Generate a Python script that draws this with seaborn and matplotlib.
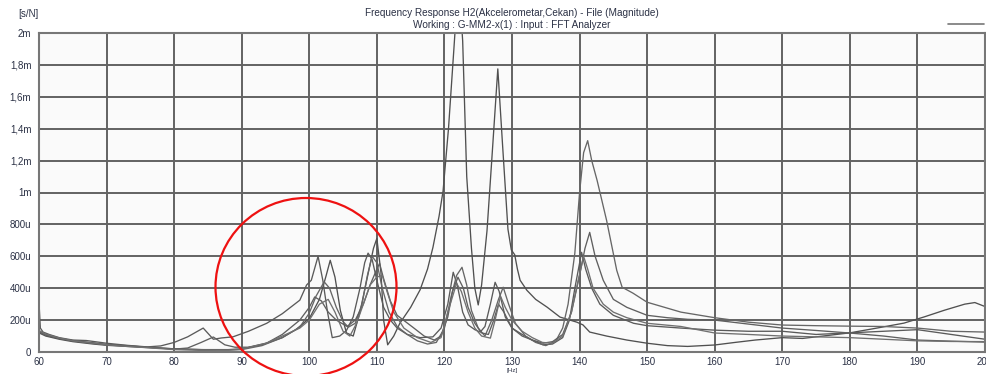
import numpy as np
import pandas as pd
import matplotlib
matplotlib.use("Agg")
import matplotlib.pyplot as plt
import seaborn as sns
from matplotlib.patches import Ellipse
from matplotlib.lines import Line2D

# ---- data (magnitude in micro s/N) ----
f1 = [60, 61, 63, 65, 68, 70, 73, 76, 80, 84, 88, 90, 93, 96, 98, 100, 101.5, 102.5, 103.1, 103.8, 104.6,
      105.5, 106.5, 107.5, 108.5, 109.5, 110, 110.6, 111.0, 111.6, 112.5, 113.4, 115, 116.4, 117.5, 118.3,
      119.2, 119.8, 120.6, 121.4, 122.1, 122.7, 123.3, 124, 124.5, 125, 125.5, 126.3, 127, 127.9, 128.6,
      129.4, 129.9, 130.4, 130.8, 131.2, 132.2, 133.5, 135.2, 137.1, 139.6, 140.5, 141.5, 144, 147, 150,
      153, 156, 160, 163, 166, 170, 173, 176, 180, 184, 188, 191, 194, 197, 198.5, 200]
v1 = [120, 100, 80, 65, 50, 42, 35, 28, 20, 15, 15, 20, 45, 90, 140, 210, 330, 480, 575, 470, 260,
      120, 100, 250, 450, 650, 712, 500, 200, 45, 100, 180, 280, 390, 520, 656,
      850, 1010, 1400, 1900, 2350, 1950, 1100, 650, 400, 295, 420, 760, 1200, 1775, 1300,
      770, 640, 610, 520, 450, 387, 330, 281, 219, 187, 170, 125, 100, 75, 55,
      40, 35, 44, 60, 75, 90, 85, 100, 120, 150, 181, 220, 262, 300, 310, 285]

f2 = [60, 60.2, 60.6, 61.5, 63, 65, 67, 70, 73, 76, 78, 80, 82, 84.3, 85.8, 87, 88.7, 91, 93.7, 96, 98.6,
      99.6, 100.3, 101.3, 102, 102.7, 103.4, 104.5, 105.5, 106.5, 107.5, 108.2, 108.7, 109.3, 110, 111,
      112, 113, 114.5, 116.4, 118.3, 119.5, 120.5, 121.3, 121.9, 122.7, 123.5, 124.5, 125.3, 126, 126.8,
      127.5, 128.1, 129, 130, 131.5, 133, 134.6, 136, 137.5, 138.5, 139.3, 140.3, 140.9, 141.8, 143, 145,
      148, 150, 155, 160, 165, 170, 175, 180, 185, 190, 195, 200]
v2 = [310, 150, 125, 110, 90, 75, 72, 55, 42, 32, 38, 60, 95, 150, 80, 88, 95, 130, 180, 240, 325,
      420, 450, 600, 450, 250, 90, 100, 135, 220, 400, 560, 620, 580, 450, 280,
      200, 150, 110, 90, 95, 150, 300, 500, 420, 250, 170, 140, 125, 160, 300,
      437, 380, 220, 150, 110, 75, 45, 50, 90, 200, 400, 625, 520, 400, 300, 230,
      180, 165, 150, 137, 130, 130, 110, 120, 130, 140, 110, 80]

f3 = [60, 61, 63, 65, 68, 70, 73, 76, 80, 84, 88, 90, 93, 96, 98.6, 100, 101, 102.2, 103, 104, 105, 105.8,
      106.8, 107.8, 108.6, 109.3, 110, 110.8, 111.8, 113, 114.5, 116, 117.5, 118.8, 120, 121, 121.8, 122.6,
      123.3, 124, 125, 126, 127, 128, 128.7, 129.5, 130.5, 132, 133.5, 135, 136.5, 137.5, 138.3, 139.3,
      140, 140.6, 141.2, 141.8, 142.6, 144, 145.5, 146.3, 147.9, 150, 155, 160, 165, 170, 175, 180, 185,
      190, 195, 200]
v3 = [130, 110, 85, 70, 55, 45, 38, 30, 20, 15, 12, 15, 40, 90, 156, 244, 350, 440, 400, 280, 190, 156,
      180, 300, 480, 600, 560, 400, 250, 160, 110, 70, 50, 60, 150, 350, 480, 531,
      420, 260, 150, 100, 200, 330, 406, 300, 180, 100, 60, 40, 70, 150, 300, 620,
      1000, 1250, 1325, 1200, 1075, 825, 512, 406, 369, 312, 250, 215, 187, 169, 165, 162, 160,
      150, 130, 125]

f4 = [60, 61, 63, 65, 68, 70, 73, 76, 80, 82, 84, 85.8, 87.5, 89, 91, 93.7, 96, 98.6, 100, 100.8, 101.8,
      102.8, 104, 105.6, 106.8, 108, 109, 109.8, 110.4, 111, 112, 113, 115.3, 117, 118.5, 119.5, 120.5,
      121.2, 122, 122.8, 123.5, 124.5, 125.5, 126.5, 127.3, 128, 128.8, 130, 131.5, 133, 134.6, 136,
      137.5, 138.8, 140, 140.8, 141.5, 142.3, 143.5, 145, 147, 150, 153, 156, 160, 165, 170, 175, 180,
      185, 190, 195, 200]
v4 = [125, 105, 85, 72, 58, 48, 40, 30, 18, 25, 60, 94, 45, 30, 30, 56, 110, 200, 280, 345, 320,
      250, 200, 160, 200, 300, 420, 500, 556, 460, 320, 230, 156, 100, 75, 100, 220,
      380, 469, 400, 280, 180, 120, 110, 200, 300, 250, 150, 100, 75, 55, 65,
      110, 250, 480, 650, 750, 600, 450, 330, 280, 230, 215, 205, 200, 175, 150, 135, 119,
      100, 75, 68, 62]

f5 = [60, 61, 63, 65, 67, 70, 73, 76, 80, 84, 88, 90, 93.7, 96, 98.6, 100, 101.5, 102.8, 103.8, 105, 106,
      107, 108, 109, 110, 110.8, 111.5, 112.5, 114, 116, 118, 119.5, 120.5, 121.8, 122.5, 123.5, 124.5,
      125.5, 126.8, 127.5, 128.3, 129, 130, 131.5, 133, 134.5, 136, 137.5, 138.8, 139.8, 140.6, 141.2,
      142, 143.5, 145, 147, 150, 155, 160, 165, 170, 175, 180, 185, 190, 195, 200]
v5 = [135, 112, 88, 70, 60, 45, 35, 27, 15, 10, 12, 18, 56, 100, 150, 200, 300, 330, 250, 130, 100,
      180, 300, 420, 470, 480, 380, 250, 150, 90, 60, 90, 250, 430, 380, 250, 150,
      100, 87, 200, 350, 280, 200, 130, 90, 60, 55, 100, 250, 450, 600, 520,
      400, 300, 250, 215, 180, 160, 119, 110, 100, 95, 90, 80, 70, 66, 65]

x_ticks = list(range(60, 201, 10))
y_ticks = [0, 200, 400, 600, 800, 1000, 1200, 1400, 1600, 1800, 2000]
y_labels = ['0', '200u', '400u', '600u', '800u', '1m', '1,2m', '1,4m', '1,6m', '1,8m', '2m']

title1 = "Frequency Response H2(Akcelerometar,Cekan) - File (Magnitude)"
title2 = "Working : G-MM2-x(1) : Input : FFT Analyzer"

frames = []
for name, f, v in [("1", f1, v1), ("2", f2, v2), ("3", f3, v3), ("4", f4, v4), ("5", f5, v5)]:
    frames.append(pd.DataFrame({"freq": f, "mag": v, "trace": name}))
df = pd.concat(frames, ignore_index=True)

# ---- plot ----
sns.set_style("white")
plt.rcParams['font.family'] = ['Liberation Sans', 'DejaVu Sans']

fig = plt.figure(figsize=(9.86, 3.74), dpi=100)
ax = fig.add_axes([39/986, 22/374, 946/986, 319/374])
ax.set_facecolor('#fafafa')

sns.lineplot(data=df, x="freq", y="mag", hue="trace", sort=False, estimator=None,
             palette=['#505050', '#5a5a5a', '#666666', '#5f5f5f', '#707070'],
             linewidth=0.95, legend=False, ax=ax)

ax.set_xlim(60, 200)
ax.set_ylim(0, 2000)
ax.set_xticks(x_ticks)
ax.set_xticklabels([str(t) for t in x_ticks])
ax.set_yticks(y_ticks)
ax.set_yticklabels(y_labels)
ax.set_xlabel("")
ax.set_ylabel("")
ax.grid(True, color='#626262', linewidth=1.4)
ax.set_axisbelow(True)
for s in ax.spines.values():
    s.set_color('#777777')
    s.set_linewidth(1.5)
ax.tick_params(axis='both', labelsize=7, colors='#333344', length=4, width=1, pad=1.5)
ax.tick_params(axis='x', length=2)
for lab in ax.get_xticklabels() + ax.get_yticklabels():
    lab.set_color('#2b3145')

fig.text(18/986, 1 - 14/374, "[s/N]", fontsize=7, color='#2b3145', ha='left', va='center')
fig.text(512/986, 1 - 13/374, title1, fontsize=7.2, color='#2b3145', ha='center', va='center')
fig.text(512/986, 1 - 25/374, title2, fontsize=7.2, color='#2b3145', ha='center', va='center')
fig.text(512/986, 1 - 373/374, "[Hz]", fontsize=4.5, color='#2b3145', ha='center', va='bottom')

fig.add_artist(Line2D([948/986, 984/986], [1 - 24/374, 1 - 24/374], transform=fig.transFigure,
                      color='#777777', linewidth=1.2))

circ = Ellipse((306/986, 1 - 287/374), width=181/986, height=178/374, transform=fig.transFigure,
               fill=False, edgecolor='#ee1111', linewidth=1.6, clip_on=False)
fig.add_artist(circ)

fig.savefig("out.png", dpi=100, facecolor='white')
